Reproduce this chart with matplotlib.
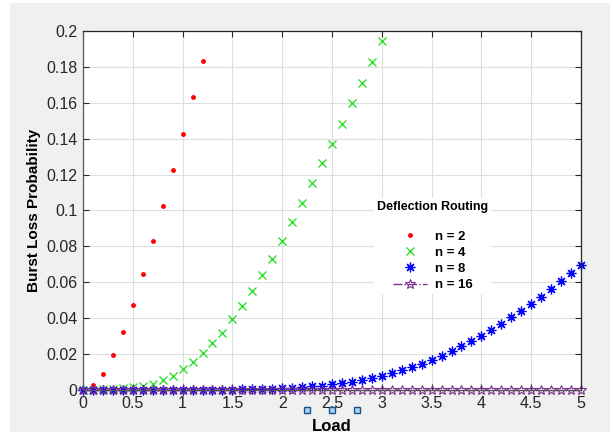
import numpy as np
import matplotlib
matplotlib.use("Agg")
import matplotlib.pyplot as plt
import matplotlib.patches as patches
from matplotlib.lines import Line2D

plt.rcParams['font.family'] = ['Liberation Sans', 'DejaVu Sans']

# load values
load_2 = np.round(np.arange(0, 1.21, 0.1), 1)
load_4 = np.round(np.arange(0, 3.01, 0.1), 1)
load_8 = np.round(np.arange(0, 5.01, 0.1), 1)
load_16 = np.round(np.arange(0, 5.01, 0.1), 1)

# burst loss probabilities
p_2 = [0.0, 0.0026, 0.0091, 0.0193, 0.0324, 0.0476, 0.0648, 0.0832,
       0.1024, 0.1224, 0.1428, 0.1633, 0.1835]
p_4 = [0.0, 0.0001, 0.0003, 0.0006, 0.0010, 0.0015, 0.0024, 0.0035,
       0.0056, 0.0080, 0.0115, 0.0157, 0.0204, 0.0261, 0.0319, 0.0394,
       0.0470, 0.0552, 0.0639, 0.0731, 0.0830, 0.0935, 0.1043, 0.1154,
       0.1263, 0.1372, 0.1483, 0.1598, 0.1711, 0.1828, 0.1944]
p_8 = [0.0, 0.0, 0.0, 0.0, 0.0, 0.0, 0.0, 0.0, 0.0, 0.0,
       0.0, 0.0, 0.0001, 0.0001, 0.0001, 0.0002, 0.0003, 0.0004, 0.0005, 0.0007,
       0.0009, 0.0012, 0.0016, 0.0020, 0.0024, 0.0032, 0.0039, 0.0046, 0.0056, 0.0067,
       0.0080, 0.0094, 0.0111, 0.0128, 0.0146, 0.0167, 0.0191, 0.0215, 0.0244, 0.0272,
       0.0302, 0.0333, 0.0367, 0.0404, 0.0441, 0.0478, 0.0519, 0.0565, 0.0606, 0.0652,
       0.0698]
p_16 = [0.0] * 51

x_ticks = [0, 0.5, 1, 1.5, 2, 2.5, 3, 3.5, 4, 4.5, 5]
x_tick_labels = ['0', '0.5', '1', '1.5', '2', '2.5', '3', '3.5', '4', '4.5', '5']
y_ticks = [0, 0.02, 0.04, 0.06, 0.08, 0.1, 0.12, 0.14, 0.16, 0.18, 0.2]
y_tick_labels = ['0', '0.02', '0.04', '0.06', '0.08', '0.1', '0.12', '0.14',
                 '0.16', '0.18', '0.2']

fig = plt.figure(figsize=(6.13, 4.34), dpi=100, facecolor='white')
# grey window area behind the axes
fig.add_artist(patches.Rectangle((0.0163, 0.0046), 0.9788, 0.9885,
                                 transform=fig.transFigure, facecolor='#f0f0f0',
                                 edgecolor='none', zorder=-10))
ax = fig.add_axes([0.1354, 0.1014, 0.8124, 0.8272])

ax.plot(load_2, p_2, linestyle='none', marker='.', color='#ff0000',
        markersize=5, label='n = 2', clip_on=False)
ax.plot(load_4, p_4, linestyle='none', marker='x', color='#2fe02f',
        markersize=6, markeredgewidth=1.0, label='n = 4', clip_on=False)
ax.plot(load_8, p_8, linestyle='none', marker=(8, 2, 0), color='#0000ff',
        markersize=7, markeredgewidth=0.9, label='n = 8', clip_on=False)
ax.plot(load_16, p_16, linestyle='-.', marker='*', color='#7e2f8e',
        markerfacecolor='none', markersize=7, linewidth=1.0,
        markeredgewidth=0.8, label='n = 16', clip_on=False)

ax.set_xlim(0, 5)
ax.set_ylim(0, 0.2)
ax.set_xticks(x_ticks)
ax.set_xticklabels(x_tick_labels)
ax.set_yticks(y_ticks)
ax.set_yticklabels(y_tick_labels)
ax.tick_params(direction='in', length=4, width=0.8, top=True, right=True,
               labelsize=11.5, colors='#262626', pad=4)
ax.grid(True, color='#dedede', linewidth=0.8)
ax.set_axisbelow(True)
for s in ax.spines.values():
    s.set_color('#262626')
    s.set_linewidth(0.9)
ax.spines['left'].set_color('#555555')
ax.spines['bottom'].set_color('#555555')

ax.set_xlabel('Load', fontsize=12, fontweight='bold', labelpad=6)
ax.set_ylabel('Burst Loss Probability', fontsize=11, fontweight='bold',
              labelpad=4)

leg = ax.legend(title='Deflection Routing\n', loc='upper left',
                bbox_to_anchor=(0.585, 0.535), frameon=True,
                prop={'weight': 'bold', 'size': 9.5},
                title_fontproperties={'weight': 'bold', 'size': 9},
                handlelength=2.6, handletextpad=0.6, labelspacing=0.3,
                borderpad=0.2, borderaxespad=0)
leg.get_frame().set_edgecolor('none')
leg.get_frame().set_facecolor('white')
leg.get_frame().set_alpha(1)

# small selection squares below the axis
fig.add_artist(Line2D([0.5008, 0.5416, 0.5824], [0.0553, 0.0553, 0.0553],
                      transform=fig.transFigure, linestyle='none', marker='s',
                      markersize=5, markerfacecolor='#a9d3f0',
                      markeredgecolor='#1c4f8c', markeredgewidth=1.0))

fig.savefig('out.png', dpi=100)
